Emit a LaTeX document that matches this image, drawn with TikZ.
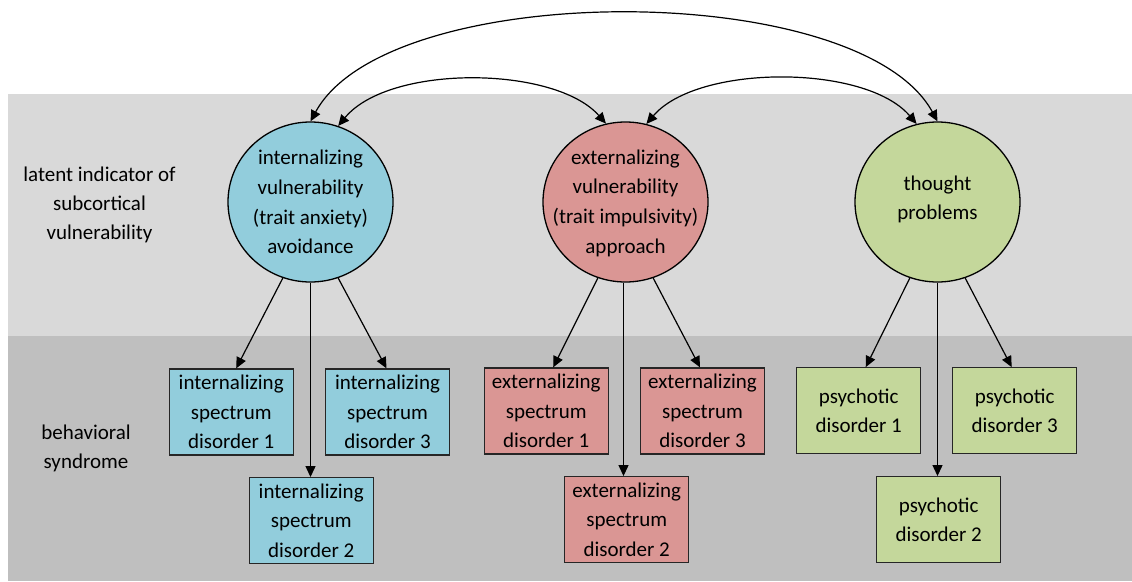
\documentclass[tikz,border=0pt]{standalone}
\usepackage{fontspec}
\setmainfont{Carlito}
\usetikzlibrary{arrows.meta,shapes.geometric}
\definecolor{intblue}{HTML}{92CDDC}
\definecolor{extred}{HTML}{DA9694}
\definecolor{thgreen}{HTML}{C4D79B}
\definecolor{bandlight}{HTML}{D9D9D9}
\definecolor{banddark}{HTML}{BFBFBF}
\begin{document}
\begin{tikzpicture}[x=1pt,y=-1pt,
  latent/.style={ellipse, draw=black, line width=1.3pt, minimum width=165pt, minimum height=160pt, inner sep=0pt},
  ctext/.style={align=center, font=\fontsize{21}{29.6}\selectfont, inner sep=0pt},
  manifest/.style={rectangle, draw=black!85, line width=1.3pt, minimum width=124pt, minimum height=86pt, inner sep=0pt, align=center, font=\fontsize{21}{29.6}\selectfont},
  link/.style={line width=1.2pt, -{Triangle[length=11pt,width=10pt]}},
  cov/.style={line width=1.2pt, {Triangle[length=11pt,width=10pt]}-{Triangle[length=11pt,width=10pt]}},
  side/.style={align=center, font=\fontsize{21}{29.2}\selectfont, inner sep=0pt}
]
\useasboundingbox (0,0) rectangle (1132,581);
\fill[white] (0,0) rectangle (1132,581);
\fill[bandlight] (8,94) rectangle (1132,336);
\fill[banddark] (8,336) rectangle (1132,581);

% side labels
\node[side] (lat) at (99.5,205) {latent indicator of\\subcortical\\vulnerability};
\node[side] (beh) at (86,448) {behavioral\\syndrome};

% latent factors
\node[latent, fill=intblue] (int) at (310.5,202) {};
\node[latent, fill=extred] (ext) at (625.5,202) {};
\node[latent, fill=thgreen] (thought) at (937.5,202) {};
\node[ctext] (intt) at (int.center) {internalizing\\vulnerability\\(trait anxiety)\\avoidance};
\node[ctext] (extt) at ([yshift=-1pt]ext.center) {externalizing\\vulnerability\\(trait impulsivity)\\approach};
\node[ctext] (tht) at ([yshift=2.5pt]thought.center) {thought\\problems};

% manifest boxes
\node[manifest, fill=intblue] (int1) at (231.2,412) {internalizing\\spectrum\\disorder 1};
\node[manifest, fill=intblue] (int3) at (387.5,412) {internalizing\\spectrum\\disorder 3};
\node[manifest, fill=intblue] (int2) at (311.2,520.7) {internalizing\\spectrum\\disorder 2};
\node[manifest, fill=extred] (ext1) at (546.2,411) {externalizing\\spectrum\\disorder 1};
\node[manifest, fill=extred] (ext3) at (702.5,411) {externalizing\\spectrum\\disorder 3};
\node[manifest, fill=extred] (ext2) at (626.7,519.7) {externalizing\\spectrum\\disorder 2};
\node[manifest, fill=thgreen] (psy1) at (858.7,410.8) {psychotic\\disorder 1};
\node[manifest, fill=thgreen] (psy3) at (1014.7,410.8) {psychotic\\disorder 3};
\node[manifest, fill=thgreen] (psy2) at (938.7,519.7) {psychotic\\disorder 2};

% loadings
\draw[link] (int.250) -- ([xshift=5pt]int1.north);
\draw[link] (int.south) -- (int.south |- int2.north);
\draw[link] (int.290) -- ([xshift=-1pt]int3.north);
\draw[link] (ext.250) -- ([xshift=7pt]ext1.north);
\draw[link] ([xshift=-2pt]ext.south) -- ([xshift=-2pt]ext.south |- ext2.north);
\draw[link] (ext.290) -- ([xshift=-2.5pt]ext3.north);
\draw[link] (thought.250) -- ([xshift=7pt]psy1.north);
\draw[link] (thought.south) -- (thought.south |- psy2.north);
\draw[link] (thought.290) -- ([xshift=-3pt]psy3.north);

% covariances
\draw[cov] (int.north) .. controls +(78,-143) and +(-78,-143) .. (thought.north);
\draw[cov] (int.70) .. controls +(51,-62) and +(-51,-58) .. (ext.104);
\draw[cov] (ext.75) .. controls +(51,-60) and +(-51,-60) .. (thought.105);
\end{tikzpicture}
\end{document}
